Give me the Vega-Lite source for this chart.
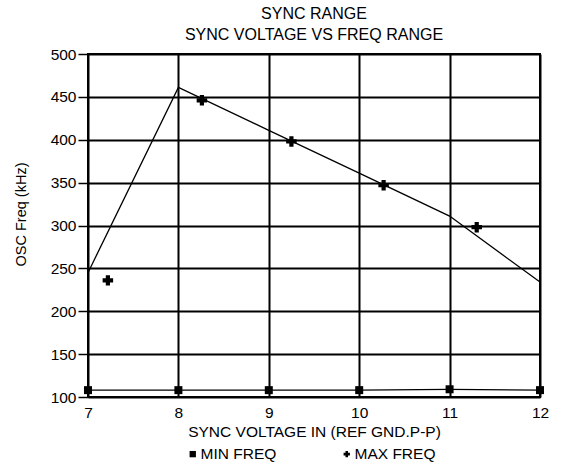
{
  "$schema": "https://vega.github.io/schema/vega-lite/v6.json",
  "width": 452,
  "height": 343,
  "autosize": "none",
  "padding": {"left": 88, "top": 54, "right": 23, "bottom": 66},
  "background": "white",
  "config": {
    "font": "Liberation Sans",
    "view": {"stroke": "black", "strokeWidth": 2}
  },
  "title": {
    "text": ["SYNC RANGE", "SYNC VOLTAGE VS FREQ RANGE"],
    "fontSize": 16,
    "fontWeight": "normal",
    "lineHeight": 21,
    "offset": 4,
    "color": "black",
    "anchor": "middle"
  },
  "datasets": {
    "lines": [
      {"series": "MIN FREQ", "v": 7, "f": 108},
      {"series": "MIN FREQ", "v": 8, "f": 108},
      {"series": "MIN FREQ", "v": 9, "f": 108},
      {"series": "MIN FREQ", "v": 10, "f": 108},
      {"series": "MIN FREQ", "v": 11, "f": 109},
      {"series": "MIN FREQ", "v": 12, "f": 108},
      {"series": "MAX FREQ", "v": 7, "f": 245},
      {"series": "MAX FREQ", "v": 8, "f": 461},
      {"series": "MAX FREQ", "v": 9, "f": 411},
      {"series": "MAX FREQ", "v": 10, "f": 361},
      {"series": "MAX FREQ", "v": 11, "f": 311},
      {"series": "MAX FREQ", "v": 12, "f": 234}
    ],
    "points": [
      {"series": "MIN FREQ", "v": 7, "f": 108},
      {"series": "MIN FREQ", "v": 8, "f": 108},
      {"series": "MIN FREQ", "v": 9, "f": 108},
      {"series": "MIN FREQ", "v": 10, "f": 108},
      {"series": "MIN FREQ", "v": 11, "f": 109},
      {"series": "MIN FREQ", "v": 12, "f": 108},
      {"series": "MAX FREQ", "v": 7.22, "f": 236},
      {"series": "MAX FREQ", "v": 8.26, "f": 446},
      {"series": "MAX FREQ", "v": 9.25, "f": 398},
      {"series": "MAX FREQ", "v": 10.27, "f": 347},
      {"series": "MAX FREQ", "v": 11.3, "f": 298}
    ]
  },
  "encoding": {
    "x": {
      "field": "v",
      "type": "quantitative",
      "scale": {"domain": [7, 12], "nice": false, "zero": false},
      "axis": {
        "values": [7, 8, 9, 10, 11, 12],
        "title": "SYNC VOLTAGE IN (REF GND.P-P)",
        "grid": true,
        "gridColor": "black",
        "gridWidth": 2,
        "gridOpacity": 1,
        "domain": false,
        "ticks": false,
        "labelPadding": 8,
        "labelFontSize": 15.5,
        "labelColor": "black",
        "labelFlush": false,
        "titleFontSize": 15.5,
        "titleFontWeight": "normal",
        "titleColor": "black",
        "titlePadding": 4
      }
    },
    "y": {
      "field": "f",
      "type": "quantitative",
      "scale": {"domain": [100, 500], "nice": false, "zero": false},
      "axis": {
        "values": [100, 150, 200, 250, 300, 350, 400, 450, 500],
        "title": "OSC Freq (kHz)",
        "grid": true,
        "gridColor": "black",
        "gridWidth": 2,
        "gridOpacity": 1,
        "domain": false,
        "ticks": true,
        "tickSize": 10,
        "tickColor": "black",
        "tickWidth": 1.5,
        "labelPadding": 2,
        "labelFontSize": 15.5,
        "labelColor": "black",
        "titleFontSize": 14.5,
        "titleFontWeight": "normal",
        "titleColor": "black",
        "titleX": -74,
        "titleY": 160,
        "titleAlign": "center",
        "titleBaseline": "top"
      }
    }
  },
  "layer": [
    {
      "data": {"name": "lines"},
      "mark": {"type": "line", "color": "black", "strokeWidth": 1.3},
      "encoding": {"detail": {"field": "series"}}
    },
    {
      "data": {"name": "points"},
      "mark": {"type": "point", "filled": true, "color": "black", "opacity": 1},
      "encoding": {
        "shape": {
          "field": "series",
          "type": "nominal",
          "scale": {"domain": ["MIN FREQ", "MAX FREQ"], "range": ["square", "cross"]},
          "legend": {
            "title": null,
            "orient": "none",
            "direction": "horizontal",
            "legendX": 97,
            "legendY": 392,
            "columnPadding": 62,
            "labelFontSize": 15.5,
            "labelColor": "black",
            "labelOffset": 0,
            "symbolSize": 40,
            "symbolFillColor": "black",
            "symbolStrokeColor": "black",
            "symbolOpacity": 1
          }
        },
        "size": {
          "condition": {"test": "datum.series === 'MAX FREQ'", "value": 110},
          "value": 64
        }
      }
    }
  ]
}
